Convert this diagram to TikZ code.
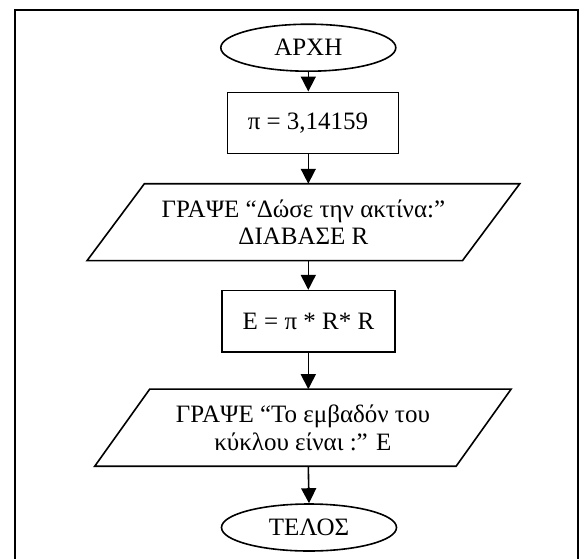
\documentclass[tikz,border=0pt]{standalone}
\usepackage{fontspec}
\setmainfont{Liberation Serif}
\usetikzlibrary{shapes.geometric,arrows.meta}
\begin{document}
\begin{tikzpicture}[x=1pt,y=-1pt,
  every node/.style={font=\fontsize{25}{27.5}\selectfont, align=center, inner sep=0pt},
  term/.style={ellipse, draw, line width=1.6pt, minimum width=175pt, minimum height=47pt},
  proc/.style={rectangle, draw, line width=1.6pt},
  io/.style={rectangle},
  para/.style={line width=1.6pt, line join=miter},
  arr/.style={line width=1.6pt, -{Triangle[length=15pt,width=15pt]}},
  frame/.style={line width=2pt}
]
\path[use as bounding box] (0,0) rectangle (584,558);
\clip (0,0) rectangle (584,558);
\draw[frame] (14.7,570) -- (14.7,10) -- (578,10) -- (578,570);

\node[term] (start) at (308.3,47.7) {ΑΡΧΗ};
\node[proc, minimum width=171pt, minimum height=61pt] (r1) at (312.8,122.8) {};
\node (t1) at (308,122.8) {π = 3,14159};
\node[io, minimum width=375pt, minimum height=76.5pt] (p1) at (303.4,222.2) {ΓΡΑΨΕ “Δώσε την ακτίνα:”\\ΔΙΑΒΑΣΕ R};
\draw[para] ([xshift=28.65pt]p1.north west) -- ([xshift=28.65pt]p1.north east) -- ([xshift=-28.65pt]p1.south east) -- ([xshift=-28.65pt]p1.south west) -- cycle;
\node[proc, minimum width=173pt, minimum height=61.3pt] (r2) at (308.5,321.3) {E = π * R* R};
\node[io, minimum width=361pt, minimum height=76.7pt] (p2) at (302.9,427.7) {ΓΡΑΨΕ “Το εμβαδόν του\\κύκλου είναι :” E};
\draw[para] ([xshift=27.5pt]p2.north west) -- ([xshift=27.5pt]p2.north east) -- ([xshift=-27.5pt]p2.south east) -- ([xshift=-27.5pt]p2.south west) -- cycle;
\node[term] (end) at (309,527.5) {ΤΕΛΟΣ};

\draw[arr] (start.south) -- (start.south |- r1.north);
\draw[arr] (start.south |- r1.south) -- (start.south |- p1.north);
\draw[arr] (start.south |- p1.south) -- (start.south |- r2.north);
\draw[arr] (start.south |- r2.south) -- (start.south |- p2.north);
\draw[arr] (start.south |- p2.south) -- (end.north);
\end{tikzpicture}
\end{document}
